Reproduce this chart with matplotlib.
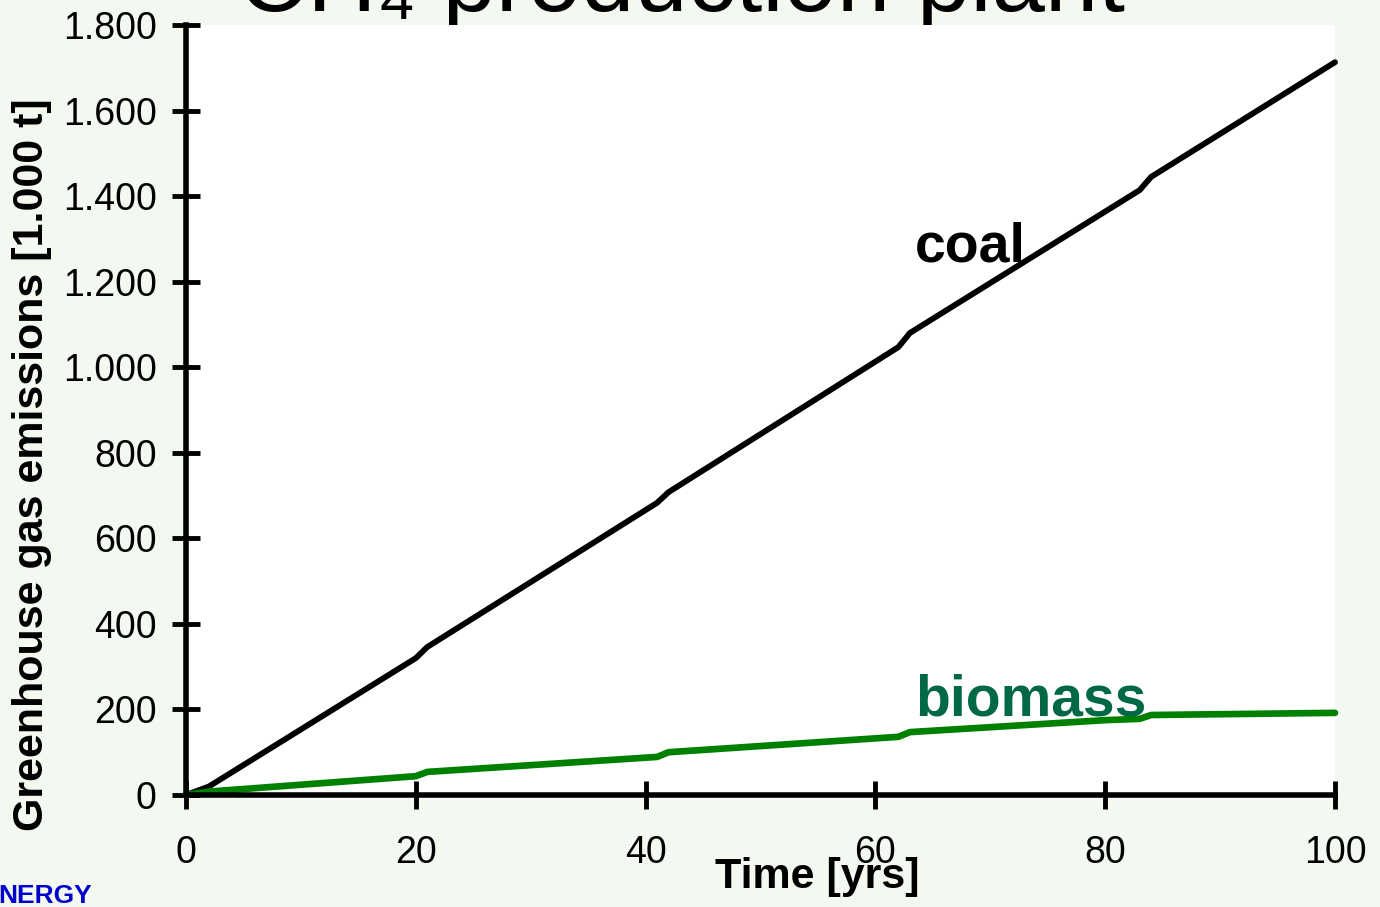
import matplotlib
matplotlib.use("Agg")
import matplotlib.pyplot as plt
from matplotlib.ticker import FuncFormatter

# values (1.000 t CO2-eq over plant lifetime)
years_coal = [0, 2, 20, 21, 41, 42, 62, 63, 83, 84, 100]
coal = [0, 20, 320, 346, 683, 708, 1047, 1080, 1414, 1445, 1713]

years_bio = [0, 2, 20, 21, 41, 42, 62, 63, 80, 83, 84, 100]
biomass = [0, 8, 44, 54, 89, 100, 136, 147, 175, 178, 187, 192]

x_ticks = [0, 20, 40, 60, 80, 100]
y_ticks = [0, 200, 400, 600, 800, 1000, 1200, 1400, 1600, 1800]

plt.rcParams['font.family'] = ['Liberation Sans', 'DejaVu Sans']

W, H = 1380, 907
fig = plt.figure(figsize=(W / 100, H / 100), dpi=100)
fig.patch.set_facecolor('#F3F8F0')

# axes box in pixels: x 186..1335, y 25..795
ax = fig.add_axes([186 / W, 1 - 795 / H, (1335 - 186) / W, (795 - 25) / H])
ax.set_facecolor('white')

ax.plot(years_coal, coal, color='black', lw=4.2, solid_capstyle='round',
        solid_joinstyle='round', clip_on=False, zorder=3)
ax.plot(years_bio, biomass, color='#008000', lw=4.8, solid_capstyle='round',
        solid_joinstyle='round', clip_on=False, zorder=3)

ax.set_xlim(0, 100)
ax.set_ylim(0, 1800)
ax.set_xticks(x_ticks)
ax.set_yticks(y_ticks)
ax.yaxis.set_major_formatter(FuncFormatter(lambda v, p: f"{int(v):,}".replace(",", ".")))

for s in ['top', 'right']:
    ax.spines[s].set_visible(False)
for s in ['left', 'bottom']:
    ax.spines[s].set_linewidth(4)
    ax.spines[s].set_color('black')
    ax.spines[s].set_zorder(4)

ax.tick_params(axis='both', direction='inout', length=20, width=3.5, color='black',
               labelsize=27)
ax.tick_params(axis='x', pad=19)
ax.tick_params(axis='y', pad=11)

# series labels
ax.text(63.4, 1248, 'coal', fontsize=40, fontweight='bold', color='black',
        va='baseline', ha='left', zorder=5)
ax.text(63.5, 187, 'biomass', fontsize=41, fontweight='bold', color='#006847',
        va='baseline', ha='left', zorder=5)

# axis titles
fig.text(32 / W, 1 - 465 / H, 'Greenhouse gas emissions [1.000 t]', rotation=90,
         fontsize=31, fontweight='bold', ha='center', va='center')
fig.text(817 / W, 1 - 877 / H, 'Time [yrs]', fontsize=31, fontweight='bold',
         ha='center', va='center')

# slide title, mostly hidden behind the plot area
fig.text(238 / W, 1 - 11 / H, 'CH\u2084 production plant', fontsize=69,
         color='black', ha='left', va='baseline', zorder=-1)

# bit of the slide logo in the corner
fig.text(-2 / W, 1 - 903 / H, 'NERGY', fontsize=19, fontweight='bold',
         color='#0000CC', ha='left', va='baseline')

fig.savefig('out.png', dpi=100, facecolor=fig.get_facecolor())
